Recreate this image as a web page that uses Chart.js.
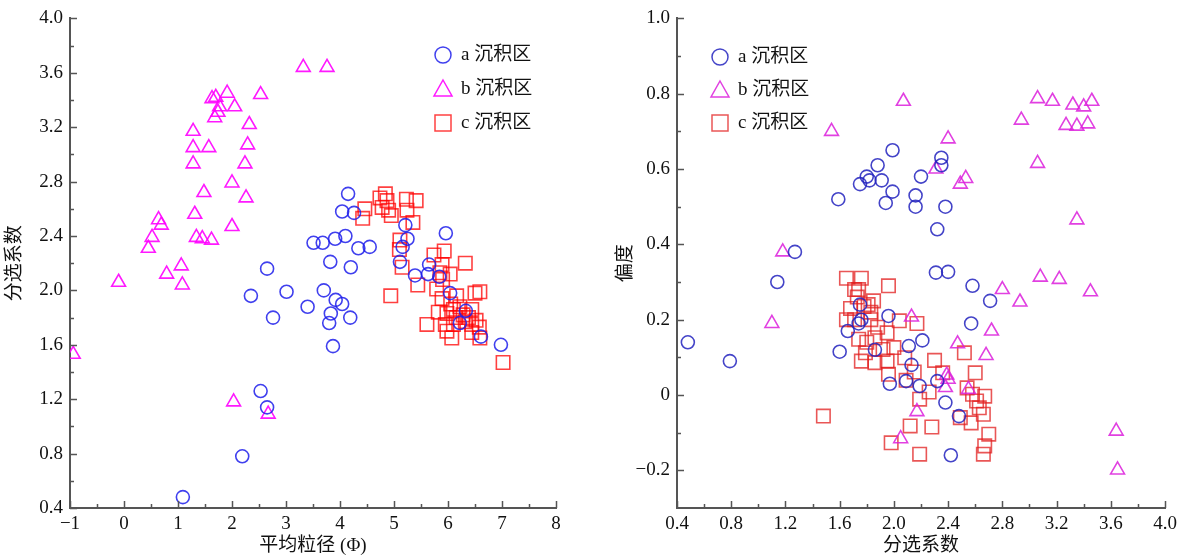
<!DOCTYPE html>
<html>
<head>
<meta charset="utf-8">
<script src="https://cdn.jsdelivr.net/npm/chart.js@4"></script>
<style>
  body { margin: 0; background: #fff; }
  #wrap { position: relative; width: 1187px; height: 558px; background: #fff; }
  .box { position: absolute; top: 0; height: 558px; }
</style>
</head>
<body>
<div id="wrap">
  <div class="box" style="left:0;width:590px"><canvas id="leftChart" width="590" height="558"></canvas></div>
  <div class="box" style="left:590px;width:597px"><canvas id="rightChart" width="597" height="558"></canvas></div>
</div>
<script>
// Series names
const seriesLabels = ['a 沉积区', 'b 沉积区', 'c 沉积区'];

// Left panel: [平均粒径 (Φ), 分选系数]
const leftA = [
  [1.09,0.48],[2.19,0.78],[2.53,1.26],[2.65,1.14],[2.35,1.96],[2.65,2.16],[2.76,1.80],[3.01,1.99],
  [3.40,1.88],[3.51,2.35],[3.68,2.35],[3.70,2.00],[3.82,2.21],[3.83,1.83],[3.80,1.76],[3.87,1.59],
  [3.91,2.38],[3.92,1.93],[4.04,1.90],[4.10,2.40],[4.04,2.58],[4.15,2.71],[4.26,2.57],[4.20,2.17],
  [4.19,1.80],[4.34,2.31],[4.55,2.32],[5.21,2.48],[5.25,2.38],[5.16,2.32],[5.11,2.21],[5.65,2.19],
  [5.39,2.11],[5.63,2.12],[5.84,2.10],[5.96,2.42],[6.04,1.98],[6.33,1.85],[6.22,1.76],[6.61,1.66],
  [6.98,1.60]
];
const leftB = [
  [-0.94,1.53],[-0.10,2.06],[0.45,2.31],[0.52,2.39],[0.64,2.52],[0.69,2.48],[0.79,2.12],[1.06,2.18],
  [1.08,2.04],[1.31,2.56],[1.34,2.39],[1.45,2.38],[1.62,2.37],[1.48,2.72],[1.28,2.93],[1.28,3.05],
  [1.28,3.17],[1.57,3.05],[1.68,3.27],[1.74,3.31],[1.77,3.35],[1.63,3.41],[1.70,3.42],[1.91,3.45],
  [2.05,3.35],[2.53,3.44],[2.32,3.22],[2.29,3.07],[2.24,2.93],[2.00,2.79],[2.26,2.68],[2.00,2.47],
  [2.03,1.18],[2.67,1.09],[3.32,3.64],[3.76,3.64]
];
const leftC = [
  [4.46,2.60],[4.42,2.53],[4.74,2.68],[4.84,2.71],[4.87,2.66],[4.78,2.61],[4.90,2.59],[4.95,2.55],
  [5.23,2.67],[5.41,2.66],[5.24,2.59],[5.35,2.50],[5.11,2.37],[5.10,2.30],[5.15,2.17],[4.94,1.96],
  [5.44,2.04],[5.74,2.26],[5.93,2.29],[6.32,2.20],[5.89,2.19],[5.85,2.13],[6.04,2.12],[5.79,2.01],
  [5.89,1.94],[6.16,1.96],[6.50,1.98],[6.59,1.99],[5.61,1.75],[5.82,1.84],[5.98,1.83],[6.10,1.86],
  [6.22,1.88],[6.44,1.86],[5.95,1.75],[6.10,1.75],[6.32,1.77],[6.44,1.75],[6.58,1.73],[6.07,1.65],
  [6.44,1.69],[6.59,1.65],[7.02,1.47],[5.90,2.08],[6.05,1.90],[6.28,1.82],[6.38,1.80],[6.52,1.78],
  [6.15,1.80],[5.98,1.70]
];

// Right panel: [分选系数, 偏度]
const rightA = [
  [0.48,0.14],[0.79,0.09],[1.14,0.30],[1.27,0.38],[1.59,0.52],[1.75,0.56],[1.80,0.58],[1.82,0.57],
  [1.91,0.57],[1.88,0.61],[1.99,0.65],[1.99,0.54],[1.94,0.51],[2.20,0.58],[2.16,0.53],[2.16,0.50],
  [2.35,0.63],[2.35,0.61],[2.38,0.50],[2.32,0.44],[2.31,0.325],[2.40,0.327],[2.58,0.29],[2.71,0.25],
  [2.57,0.19],[1.60,0.115],[1.66,0.17],[1.74,0.19],[1.76,0.20],[1.75,0.24],[1.96,0.21],[1.86,0.12],
  [1.97,0.03],[2.21,0.145],[2.11,0.13],[2.13,0.08],[2.09,0.037],[2.19,0.024],[2.32,0.037],[2.38,-0.02],
  [2.48,-0.056],[2.42,-0.16]
];
const rightB = [
  [1.54,0.70],[1.18,0.38],[1.10,0.19],[2.07,0.78],[2.40,0.68],[2.31,0.60],[2.49,0.56],[2.53,0.575],
  [3.06,0.787],[3.17,0.78],[3.32,0.77],[3.40,0.765],[3.46,0.78],[2.94,0.73],[3.27,0.716],[3.35,0.714],
  [3.43,0.72],[3.06,0.615],[3.35,0.465],[3.08,0.313],[3.22,0.307],[3.45,0.274],[2.80,0.28],[2.93,0.247],
  [2.72,0.17],[2.47,0.136],[2.68,0.105],[2.13,0.207],[2.39,0.053],[2.40,0.042],[2.38,0.02],[2.55,0.015],
  [2.17,-0.044],[2.05,-0.116],[3.64,-0.096],[3.65,-0.199]
];
const rightC = [
  [1.65,0.31],[1.76,0.31],[1.74,0.28],[1.71,0.28],[1.96,0.29],[1.85,0.25],[1.81,0.24],[1.78,0.235],
  [1.83,0.22],[1.65,0.20],[1.71,0.20],[1.83,0.20],[2.04,0.197],[2.17,0.19],[1.74,0.148],[1.86,0.152],
  [1.95,0.165],[2.00,0.126],[1.79,0.112],[1.92,0.121],[1.76,0.09],[1.86,0.086],[1.95,0.09],[1.96,0.055],
  [2.08,0.099],[2.30,0.092],[2.15,0.061],[2.09,0.039],[2.26,0.008],[2.19,-0.011],[2.52,0.112],[2.60,0.059],
  [2.36,0.059],[2.54,0.019],[2.58,0.002],[2.61,-0.016],[2.67,-0.003],[2.63,-0.034],[2.66,-0.051],[2.57,-0.074],
  [2.49,-0.06],[2.12,-0.082],[2.28,-0.085],[1.98,-0.127],[2.70,-0.104],[2.67,-0.135],[2.66,-0.157],[2.19,-0.157],
  [1.48,-0.056],[1.73,0.26],[1.88,0.18],[1.68,0.23],[1.80,0.14]
];

// Tick values and labels
const leftXTicks = [-1, 0, 1, 2, 3, 4, 5, 6, 7, 8];
const leftXLabels = ['\u22121', '0', '1', '2', '3', '4', '5', '6', '7', '8'];
const leftXMinor = [-0.5, 0.5, 1.5, 2.5, 3.5, 4.5, 5.5, 6.5, 7.5];
const leftYTicks = [0.4, 0.8, 1.2, 1.6, 2.0, 2.4, 2.8, 3.2, 3.6, 4.0];
const leftYLabels = ['0.4', '0.8', '1.2', '1.6', '2.0', '2.4', '2.8', '3.2', '3.6', '4.0'];
const leftYMinor = [0.6, 1.0, 1.4, 1.8, 2.2, 2.6, 3.0, 3.4, 3.8];

const rightXTicks = [0.4, 0.8, 1.2, 1.6, 2.0, 2.4, 2.8, 3.2, 3.6, 4.0];
const rightXLabels = ['0.4', '0.8', '1.2', '1.6', '2.0', '2.4', '2.8', '3.2', '3.6', '4.0'];
const rightXMinor = [0.6, 1.0, 1.4, 1.8, 2.2, 2.6, 3.0, 3.4, 3.8];
const rightYTicks = [-0.2, 0, 0.2, 0.4, 0.6, 0.8, 1.0];
const rightYLabels = ['\u22120.2', '0', '0.2', '0.4', '0.6', '0.8', '1.0'];
const rightYMinor = [-0.1, 0.1, 0.3, 0.5, 0.7, 0.9];

const FONT = "'Liberation Serif', 'Noto Sans CJK SC', serif";
const AXIS_COLOR = '#555';

// tick marks drawn on the inside of the axes
const innerTicks = {
  id: 'innerTicks',
  afterDraw(chart, args, opts) {
    const { ctx, chartArea: a, scales: { x, y } } = chart;
    ctx.save();
    ctx.strokeStyle = AXIS_COLOR;
    ctx.lineWidth = 1.5;
    ctx.beginPath();
    const markX = (list, len) => list.forEach(v => {
      const px = Math.round(x.getPixelForValue(v)) + 0.5;
      ctx.moveTo(px, a.bottom);
      ctx.lineTo(px, a.bottom - len);
    });
    const markY = (list, len) => list.forEach(v => {
      const py = Math.round(y.getPixelForValue(v)) + 0.5;
      ctx.moveTo(a.left, py);
      ctx.lineTo(a.left + len, py);
    });
    markX(opts.xMajor, 7);
    markX(opts.xMinor, 4);
    markY(opts.yMajor, 7);
    markY(opts.yMinor, 4);
    ctx.stroke();
    ctx.restore();
  }
};

// legend inside the plot area
const insideLegend = {
  id: 'insideLegend',
  afterDraw(chart, args, opts) {
    const ctx = chart.ctx;
    ctx.save();
    chart.data.datasets.forEach((ds, i) => {
      const cx = opts.x, cy = opts.y + i * opts.gap;
      ctx.strokeStyle = ds.borderColor;
      ctx.lineWidth = 1.5;
      ctx.beginPath();
      if (ds.pointStyle === 'circle') {
        ctx.arc(cx, cy, 8, 0, Math.PI * 2);
      } else if (ds.pointStyle === 'triangle') {
        ctx.moveTo(cx, cy - 9);
        ctx.lineTo(cx + 9, cy + 7);
        ctx.lineTo(cx - 9, cy + 7);
        ctx.closePath();
      } else {
        ctx.rect(cx - 8, cy - 8, 16, 16);
      }
      ctx.stroke();
      ctx.fillStyle = '#111';
      ctx.font = '19px ' + FONT;
      ctx.textBaseline = 'middle';
      ctx.fillText(ds.label, cx + 18, cy);
    });
    ctx.restore();
  }
};

function makeDatasets(a, b, c, colors) {
  const toPts = arr => arr.map(p => ({ x: p[0], y: p[1] }));
  return [
    { label: seriesLabels[0], data: toPts(a), pointStyle: 'circle', pointRadius: 6.5,
      borderColor: colors[0], backgroundColor: 'rgba(0,0,0,0)', borderWidth: 1.6 },
    { label: seriesLabels[1], data: toPts(b), pointStyle: 'triangle', pointRadius: 8,
      borderColor: colors[1], backgroundColor: 'rgba(0,0,0,0)', borderWidth: 1.6 },
    { label: seriesLabels[2], data: toPts(c), pointStyle: 'rect', pointRadius: 9.5,
      borderColor: colors[2], backgroundColor: 'rgba(0,0,0,0)', borderWidth: 1.6 }
  ];
}

function axis(cfg) {
  return {
    type: 'linear',
    position: cfg.position,
    min: cfg.min,
    max: cfg.max,
    grid: { display: false, drawTicks: false },
    border: { display: true, color: AXIS_COLOR, width: 2 },
    afterBuildTicks: scale => { scale.ticks = cfg.ticks.map(v => ({ value: v })); },
    afterFit: scale => {
      if (cfg.position === 'left') scale.width = cfg.size;
      else scale.height = cfg.size;
    },
    ticks: {
      autoSkip: false,
      maxRotation: 0,
      padding: cfg.position === 'left' ? 7 : 5,
      color: '#111',
      font: { family: FONT, size: 19 },
      callback: (v, i) => cfg.labels[i]
    },
    title: {
      display: true,
      text: cfg.title,
      color: '#111',
      font: { family: FONT, size: 19 },
      padding: cfg.titlePad
    }
  };
}

function makeChart(id, datasets, scales, padding, tickOpts, legendOpts) {
  new Chart(document.getElementById(id), {
    type: 'scatter',
    data: { datasets },
    options: {
      responsive: false,
      animation: false,
      events: [],
      layout: { padding },
      scales,
      plugins: {
        legend: { display: false },
        tooltip: { enabled: false },
        innerTicks: tickOpts,
        insideLegend: legendOpts
      }
    },
    plugins: [innerTicks, insideLegend]
  });
}

makeChart('leftChart',
  makeDatasets(leftA, leftB, leftC, ['rgba(30,30,235,0.85)', 'rgba(255,0,255,0.9)', 'rgba(255,0,0,0.75)']),
  {
    x: axis({ position: 'bottom', min: -1, max: 8, ticks: leftXTicks, labels: leftXLabels,
      size: 50, title: '平均粒径 (Φ)', titlePad: { top: 0, bottom: 1 } }),
    y: axis({ position: 'left', min: 0.4, max: 4.0, ticks: leftYTicks, labels: leftYLabels,
      size: 70, title: '分选系数', titlePad: { top: 4, bottom: 0 } })
  },
  { top: 18, right: 34, bottom: 0, left: 0 },
  { xMajor: leftXTicks, xMinor: leftXMinor, yMajor: leftYTicks, yMinor: leftYMinor },
  { x: 443, y: 55, gap: 34 }
);

makeChart('rightChart',
  makeDatasets(rightA, rightB, rightC, ['rgba(35,35,190,0.85)', 'rgba(220,30,220,0.85)', 'rgba(225,30,30,0.75)']),
  {
    x: axis({ position: 'bottom', min: 0.4, max: 4.0, ticks: rightXTicks, labels: rightXLabels,
      size: 50, title: '分选系数', titlePad: { top: 0, bottom: 1 } }),
    y: axis({ position: 'left', min: -0.3, max: 1.0, ticks: rightYTicks, labels: rightYLabels,
      size: 87, title: '偏度', titlePad: { top: 25, bottom: 0 } })
  },
  { top: 17, right: 22, bottom: 0, left: 0 },
  { xMajor: rightXTicks, xMinor: rightXMinor, yMajor: rightYTicks, yMinor: rightYMinor },
  { x: 130, y: 57, gap: 33 }
);
</script>
</body>
</html>
